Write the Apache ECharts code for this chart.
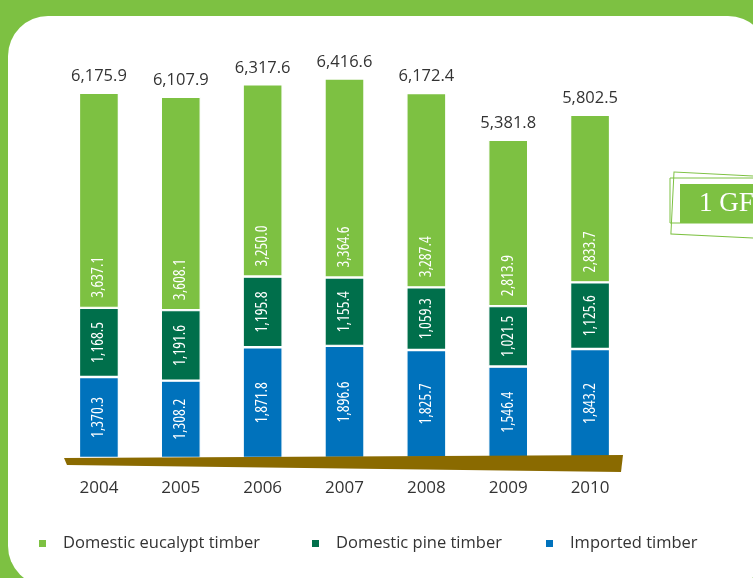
<!DOCTYPE html>
<html>
<head>
<meta charset="utf-8">
<style>
  html, body { margin: 0; padding: 0; background: #7dc142; }
  #chart { width: 753px; height: 578px; }
</style>
<script src="https://cdn.jsdelivr.net/npm/echarts@6/dist/echarts.min.js"></script>
</head>
<body>
<div id="chart"></div>
<script>
var years = ['2004', '2005', '2006', '2007', '2008', '2009', '2010'];
var imported = [1370.3, 1308.2, 1871.8, 1896.6, 1825.7, 1546.4, 1843.2];
var pine = [1168.5, 1191.6, 1195.8, 1155.4, 1059.3, 1021.5, 1125.6];
var eucalypt = [3637.1, 3608.1, 3250.0, 3364.6, 3287.4, 2813.9, 2833.7];
var totals = [6175.9, 6107.9, 6317.6, 6416.6, 6172.4, 5381.8, 5802.5];
var names = ['Domestic eucalypt timber', 'Domestic pine timber', 'Imported timber'];
var colors = ['#7dc142', '#006f4b', '#0072bc'];
var legendLeft = [37, 310, 544];

function fmt(v) {
	return v.toLocaleString('en-US', { minimumFractionDigits: 1, maximumFractionDigits: 1 });
}

// rotated labels inside the segments (condensed goes into the canvas font string via fontStyle)
var insideLabel = {
	show: true,
	position: 'inside',
	rotate: 90,
	color: '#fff',
	fontFamily: 'Open Sans',
	fontStyle: 'condensed',
	fontSize: 16,
	formatter: function (p) { return fmt(p.value); }
};

var chart = echarts.init(document.getElementById('chart'));
var option = {
	backgroundColor: '#7dc142',
	animation: false,
	color: colors,
	grid: { left: 58, right: 122, top: 44, bottom: 120 },
	// one legend per item, placed like the original
	legend: names.map(function (n, i) {
		return {
			data: [n],
			left: legendLeft[i],
			top: 535,
			padding: 0,
			icon: 'rect',
			itemWidth: 9,
			itemHeight: 9,
			textStyle: {
				fontFamily: 'Open Sans', fontSize: 16.5,
				color: '#333', padding: [0, 0, 0, 11]
			}
		};
	}),
	xAxis: {
		type: 'category',
		data: years,
		axisLine: { show: false },
		axisTick: { show: false },
		axisLabel: { margin: 22, fontFamily: 'Open Sans', fontSize: 17, color: '#333' }
	},
	yAxis: {
		type: 'value',
		min: 0,
		max: 7000,
		show: false,
		splitLine: { show: false }
	},
	series: [{
		name: 'Imported timber',
		type: 'bar',
		stack: 'all',
		barWidth: 40,
		data: imported,
		itemStyle: { color: colors[2], borderColor: '#fff', borderWidth: 1.2 },
		label: insideLabel
	}, {
		name: 'Domestic pine timber',
		type: 'bar',
		stack: 'all',
		data: pine,
		itemStyle: { color: colors[1], borderColor: '#fff', borderWidth: 1.2 },
		label: insideLabel
	}, {
		name: 'Domestic eucalypt timber',
		type: 'bar',
		stack: 'all',
		data: eucalypt,
		itemStyle: { color: colors[0], borderColor: '#fff', borderWidth: 1.2 },
		label: {
			show: true,
			position: 'insideBottom',
			distance: 10,
			rotate: 90,
			align: 'left',
			verticalAlign: 'middle',
			color: '#fff',
			fontFamily: 'Open Sans',
			fontStyle: 'condensed',
			fontSize: 16,
			formatter: function (p) { return fmt(p.value); }
		}
	}, {
		name: 'total',
		type: 'bar',
		stack: 'all',
		data: totals.map(function () { return 0; }),
		itemStyle: { color: 'transparent' },
		label: {
			show: true,
			position: 'top',
			distance: 8,
			color: '#333',
			fontFamily: 'Open Sans',
			fontSize: 16.5,
			formatter: function (p) { return fmt(totals[p.dataIndex]); }
		}
	}],
	graphic: [{
		// white panel
		type: 'rect',
		z: -10,
		shape: { x: 8, y: 16, width: 760, height: 570, r: 40 },
		style: { fill: '#fff' }
	}, {
		// brown base wedge
		type: 'polygon',
		z: 100,
		shape: { points: [[64, 458], [623, 455], [621, 472], [67, 465]] },
		style: { fill: '#8a6a00' }
	}, {
		type: 'rect',
		z: 100,
		shape: { x: 674, y: 172, width: 100, height: 62 },
		rotation: -0.05,
		originX: 674, originY: 172,
		style: { fill: 'none', stroke: '#7dc142', lineWidth: 1 }
	}, {
		type: 'rect',
		z: 100,
		shape: { x: 670, y: 178, width: 100, height: 45 },
		style: { fill: 'none', stroke: '#7dc142', lineWidth: 1 }
	}, {
		type: 'rect',
		z: 100,
		shape: { x: 680, y: 184, width: 90, height: 39 },
		style: { fill: '#7dc142' }
	}, {
		type: 'text',
		z: 101,
		x: 699,
		y: 204,
		style: {
			text: '1 GF',
			fill: '#fff',
			font: '27px "Liberation Serif", "DejaVu Serif", serif',
			verticalAlign: 'middle'
		}
	}]
};
chart.setOption(option);
</script>
</body>
</html>
